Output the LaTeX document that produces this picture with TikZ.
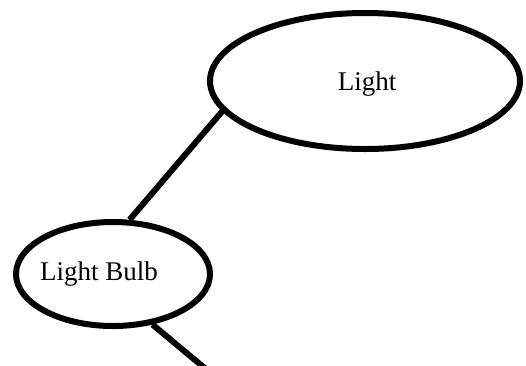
\documentclass[tikz,border=0pt]{standalone}
\usepackage{fontspec}
\setmainfont{Liberation Serif}
\usetikzlibrary{shapes.geometric}
\begin{document}
\begin{tikzpicture}[x=1pt,y=-1pt,
  bubble/.style={draw=black,line width=6pt,ellipse,inner sep=0pt},
  lbl/.style={font=\fontsize{27}{30}\selectfont,anchor=base,inner sep=0pt},
  link/.style={draw=black,line width=6pt}]
\fill[white] (0,0) rectangle (526,365);
\useasboundingbox (0,0) rectangle (526,365);
\clip (0,0) rectangle (526,365);
\node[bubble,minimum width=310pt,minimum height=136pt] (light) at (365,81) {};
\node[bubble,minimum width=194pt,minimum height=104pt] (bulb) at (113,274) {};
\node[lbl] (lighttext) at (367,90) {Light};
\node[lbl] (bulbtext) at (99,280) {Light Bulb};
\coordinate (down) at (207,370);
\draw[link] (light.192) -- (bulb.73);
\draw[link] (bulb.308) -- (down);
\end{tikzpicture}
\end{document}
